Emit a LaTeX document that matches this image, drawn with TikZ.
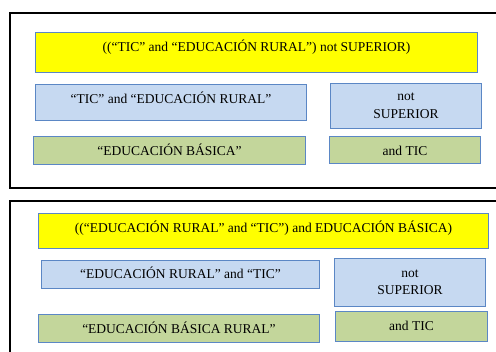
\documentclass[tikz,border=0pt]{standalone}
\usepackage{fontspec}
\setmainfont{Liberation Serif}
\usetikzlibrary{positioning}
\definecolor{qyellow}{HTML}{FFFF00}
\definecolor{qblue}{HTML}{C6D9F1}
\definecolor{qgreen}{HTML}{C3D69B}
\definecolor{qline}{HTML}{5B87C5}

\begin{document}
\begin{tikzpicture} [x=1pt,y=-1pt,line width=1pt,
  every node/.style={font=\fontsize{13.5}{17.5}\selectfont},
  box/.style={draw=qline,anchor=north west,inner sep=0pt,align=center},
  oneline/.style={text height=9pt,text depth=0pt},
  query/.style={box,oneline,fill=qyellow},
  term/.style={box,fill=qblue},
  extra/.style={box,oneline,fill=qgreen},
  frame/.style={draw=black,line width=2pt}]

  \useasboundingbox (0,0) rectangle (496,352);
  \clip (0,0) rectangle (496,352);

  \draw[frame] (10,13) rectangle (530,188);
  \draw[frame] (10,201) rectangle (530,370);

  \node[query] (q1) at (35,32) [minimum width=442pt, minimum height=40pt, text depth=10pt]
    {((“TIC” and “EDUCACIÓN RURAL”) not SUPERIOR)};
  \node[term] (a1) at (35,84) [oneline, minimum width=271pt, minimum height=36pt, text depth=6pt]
    {“TIC” and “EDUCACIÓN RURAL”};
  \node[term] (n1) at (330,83) [minimum width=151pt, minimum height=45pt]
    {not\\SUPERIOR};
  \node[extra] (b1) at (33,136) [minimum width=272pt, minimum height=28pt, text height=11pt]
    {“EDUCACIÓN BÁSICA”};
  \node[extra] (t1) at (329,136) [minimum width=151pt, minimum height=27pt, text height=12pt]
    {and TIC};

  \node[query] (q2) at (38,213) [minimum width=450pt, minimum height=35pt, text depth=5pt]
    {((“EDUCACIÓN RURAL” and “TIC”) and EDUCACIÓN BÁSICA)};
  \node[term] (a2) at (41,260) [oneline, minimum width=278pt, minimum height=28pt]
    {“EDUCACIÓN RURAL” and “TIC”};
  \node[term] (n2) at (334,258) [minimum width=151pt, minimum height=48pt]
    {not\\SUPERIOR};
  \node[extra] (b2) at (38,314) [minimum width=281pt, minimum height=28pt, text height=11pt]
    {“EDUCACIÓN BÁSICA RURAL”};
  \node[extra] (t2) at (335,311) [minimum width=152pt, minimum height=30pt]
    {and TIC};

\end{tikzpicture}
\end{document}
